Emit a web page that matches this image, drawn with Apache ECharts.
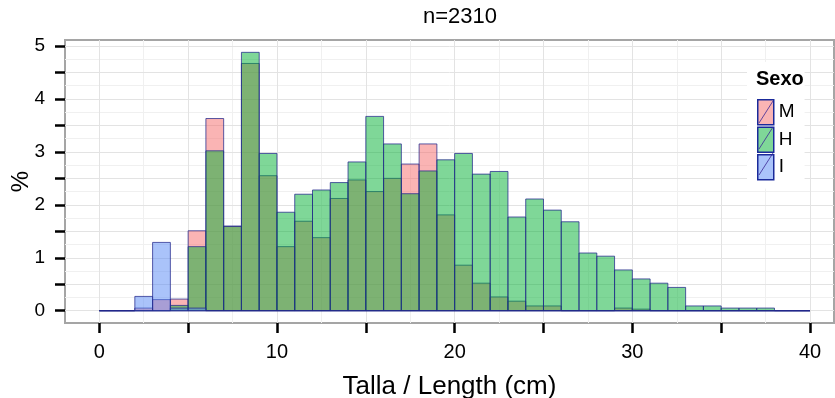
<!DOCTYPE html>
<html>
<head>
<meta charset="utf-8">
<script src="https://cdn.jsdelivr.net/npm/echarts@6/dist/echarts.min.js"></script>
<style>
  html, body { margin: 0; padding: 0; background: #fff; }
  #chart { width: 835px; height: 398px; }
</style>
</head>
<body>
<div id="chart"></div>
<script>
// bin edges (cm)
const edges = [0, 1, 2, 3, 4, 5, 6, 7, 8, 9, 10, 11, 12, 13, 14, 15, 16, 17, 18, 19, 20,
  21, 22, 23, 24, 25, 26, 27, 28, 29, 30, 31, 32, 33, 34, 35, 36, 37, 38, 39, 40];

// % per bin
const valuesM = [0, 0, 0.05, 0.21, 0.22, 1.51, 3.63, 1.60, 4.67, 2.55,
  1.21, 1.69, 1.38, 2.12, 2.47, 2.25, 2.50, 2.77, 3.15, 1.81,
  0.86, 0.52, 0.26, 0.18, 0.09, 0.09, 0, 0, 0, 0.05,
  0.03, 0, 0, 0, 0, 0, 0, 0, 0, 0];
const valuesH = [0, 0, 0, 0, 0.10, 1.21, 3.02, 1.59, 4.88, 2.97,
  1.86, 2.20, 2.28, 2.42, 2.81, 3.67, 3.15, 2.21, 2.64, 2.85,
  2.97, 2.58, 2.63, 1.77, 2.11, 1.90, 1.68, 1.09, 1.03, 0.77,
  0.60, 0.52, 0.44, 0.09, 0.09, 0.05, 0.05, 0.05, 0, 0];
const valuesI = [0, 0, 0.27, 1.29, 0.05, 0.05, 0, 0, 0, 0,
  0, 0, 0, 0, 0, 0, 0, 0, 0, 0,
  0, 0, 0, 0, 0, 0, 0, 0, 0, 0,
  0, 0, 0, 0, 0, 0, 0, 0, 0, 0];

const seriesNames = ['M', 'H', 'I'];

// axis ticks / labels
const xTicks = [0, 5, 10, 15, 20, 25, 30, 35, 40];
const xLabels = [0, 10, 20, 30, 40];
const yTicks = [0, 0.5, 1, 1.5, 2, 2.5, 3, 3.5, 4, 4.5, 5];
const yLabels = [0, 1, 2, 3, 4, 5];

// background grid
const xGridMajor = [0, 5, 10, 15, 20, 25, 30, 35, 40];
const xGridMinor = [2.5, 7.5, 12.5, 17.5, 22.5, 27.5, 32.5, 37.5];
const yGridMajor = [0, 0.5, 1, 1.5, 2, 2.5, 3, 3.5, 4, 4.5, 5];
const yGridMinor = [0.25, 0.75, 1.25, 1.75, 2.25, 2.75, 3.25, 3.75, 4.25, 4.75];

const colors = ['rgba(245,105,105,0.5)', 'rgba(0,175,50,0.5)', 'rgba(85,135,245,0.5)'];
const edgeColor = 'rgba(35,40,140,0.75)';
const font = 'Liberation Sans';

const chart = echarts.init(document.getElementById('chart'), null, { renderer: 'canvas' });

const toRows = vals => vals.map((v, i) => [edges[i], edges[i + 1], v]);

const histItem = (params, api) => {
  const p0 = api.coord([api.value(0), 0]);
  const p1 = api.coord([api.value(1), api.value(2)]);
  return {
    type: 'rect',
    shape: { x: p0[0], y: p1[1], width: p1[0] - p0[0], height: p0[1] - p1[1] },
    style: { fill: api.visual('color'), stroke: edgeColor, lineWidth: 1 }
  };
};

const gridLines = (vals, axis, color) => vals.map(v => ({
  [axis]: v, lineStyle: { color: color, width: 1, type: 'solid' }
}));

const allValues = [valuesM, valuesH, valuesI];

const series = [{
  type: 'line',
  data: [],
  silent: true,
  z: 0,
  markLine: {
    silent: true,
    z: 0,
    symbol: 'none',
    label: { show: false },
    animation: false,
    data: [].concat(
      gridLines(xGridMinor, 'xAxis', '#f0f0f0'),
      gridLines(yGridMinor, 'yAxis', '#f0f0f0'),
      gridLines(xGridMajor, 'xAxis', '#e3e3e3'),
      gridLines(yGridMajor, 'yAxis', '#e3e3e3')
    )
  }
}];
seriesNames.forEach((name, i) => {
  series.push({
    name: name,
    type: 'custom',
    renderItem: histItem,
    itemStyle: { color: colors[i], borderColor: edgeColor },
    encode: { x: [0, 1], y: 2 },
    data: toRows(allValues[i]),
    z: 3 + i
  });
});

// little diagonal strokes inside the legend keys
const legendKeyTops = [99, 125, 151];
const keyStrokes = legendKeyTops.map(t => ({
  type: 'line',
  z: 100,
  shape: { x1: 759, y1: t + 24, x2: 773, y2: t + 2 },
  style: { stroke: 'rgba(60,40,150,0.8)', lineWidth: 1 }
}));

chart.setOption({
  animation: false,
  backgroundColor: '#fff',
  textStyle: { fontFamily: font },
  title: {
    text: 'n=2310',
    left: 418,
    top: 1,
    textStyle: { fontFamily: font, fontSize: 22, fontWeight: 'normal', color: '#000' }
  },
  grid: {
    left: 65, right: 1, top: 40, bottom: 75,
    outerBoundsMode: 'none',
    show: true, borderColor: '#a5a5a5', borderWidth: 2
  },
  legend: {
    orient: 'vertical',
    left: 747,
    top: 62,
    padding: [37, 10, 8, 10],
    backgroundColor: '#fff',
    itemWidth: 16,
    itemHeight: 25,
    itemGap: 1,
    icon: 'rect',
    data: seriesNames,
    itemStyle: { borderColor: '#1a2a9a', borderWidth: 1.5 },
    textStyle: { fontFamily: font, fontSize: 19, color: '#000' }
  },
  graphic: [{
    type: 'text',
    left: 756,
    top: 69,
    z: 100,
    style: { text: 'Sexo', fontFamily: font, fontSize: 20, fontWeight: 'bold', fill: '#000' }
  }].concat(keyStrokes),
  xAxis: {
    type: 'value',
    min: -1.93,
    max: 41.35,
    name: 'Talla / Length (cm)',
    nameLocation: 'middle',
    nameGap: 51,
    nameTextStyle: { fontFamily: font, fontSize: 26, color: '#000' },
    axisLine: { show: false, onZero: false },
    axisTick: { show: true, customValues: xTicks, length: 10, lineStyle: { color: '#000', width: 2.5 } },
    axisLabel: { customValues: xLabels, fontSize: 20, color: '#000', margin: 19 },
    splitLine: { show: false }
  },
  yAxis: {
    type: 'value',
    min: -0.232,
    max: 5.113,
    name: '%',
    nameLocation: 'middle',
    nameGap: 32,
    nameMoveOverlap: false,
    nameRotate: 90,
    nameTextStyle: { fontFamily: font, fontSize: 24, color: '#000' },
    axisLine: { show: false, onZero: false },
    axisTick: { show: true, customValues: yTicks, length: 10, lineStyle: { color: '#000', width: 2.5 } },
    axisLabel: { customValues: yLabels, fontSize: 19, color: '#000', margin: 20 },
    splitLine: { show: false }
  },
  series: series
});
</script>
</body>
</html>
